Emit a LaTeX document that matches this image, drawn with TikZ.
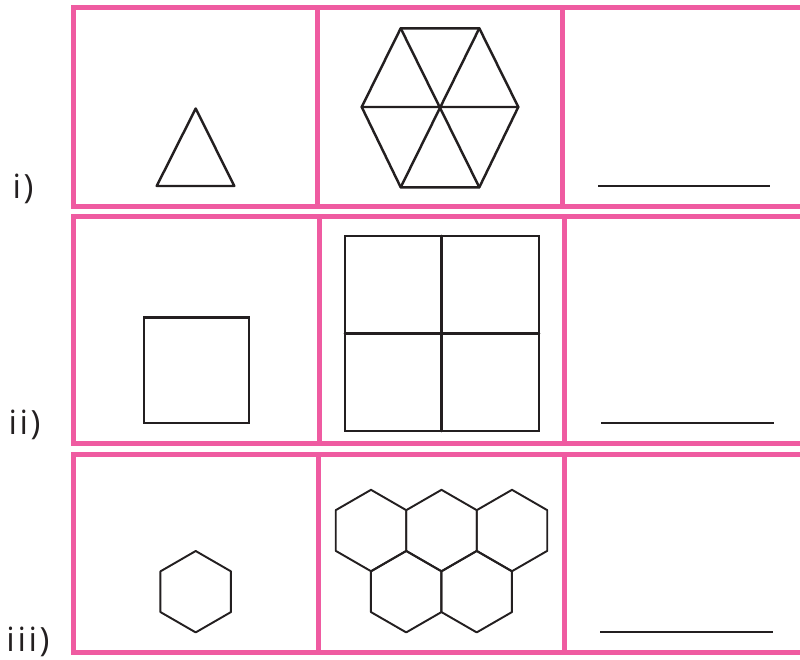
\documentclass[tikz,border=0pt]{standalone}
\usepackage{fontspec}
\newfontfamily\labelfont[LetterSpace=8]{Open Sans}
\usepackage{xcolor}
\usepackage{tikz}
\usetikzlibrary{positioning}
\definecolor{framepink}{HTML}{EF5BA1}
\definecolor{ink}{HTML}{231F20}
\tikzset{
    every picture/.style={line cap=round,line join=round},
    cellframe/.style={draw=framepink,line width=2.85pt,line cap=rect,line join=miter},
    shapeline/.style={draw=ink,line width=1.4pt},
    hexline/.style={draw=ink,line width=1.1pt},
    answerline/.style={draw=ink,line width=1.3pt,line cap=butt},
    rowlabel/.style={inner sep=0pt,text=ink,font=\labelfont\fontsize{19}{22}\selectfont}
}

\begin{document}
\begin{tikzpicture}[x=0.02cm,y=-0.02cm]
  \useasboundingbox (0,0) rectangle (800,659);
  % frames of the three rows
  \foreach \ya/\yb/\xa/\xb in {7.5/206/317.5/562,216.5/443.5/319.5/564.5,454/652/318.5/564}{
    \draw[cellframe] (73.5,\ya) rectangle (815,\yb);
    \draw[cellframe] (\xa,\ya)--(\xa,\yb) (\xb,\ya)--(\xb,\yb);}
  \node[rowlabel,anchor=base east] (lab1) at (34,198){i)};
  \node[rowlabel,anchor=base east] (lab2) at (41,434){ii)};
  \node[rowlabel,anchor=base east] (lab3) at (50,651){iii)};
  % row i
  \draw[shapeline] (195.7,108.5)--(156.7,186)--(234.3,186)--cycle;
  \coordinate (hl) at (361.7,107);   \coordinate (hr) at (518.3,107);
  \coordinate (htl) at (400.7,28.3); \coordinate (htr) at (479.3,28.3);
  \coordinate (hbl) at (400.7,187.3);\coordinate (hbr) at (479.3,187.3);
  \draw[shapeline] (hl)--(htl)--(htr)--(hr)--(hbr)--(hbl)--cycle;
  \draw[shapeline] (hl)--(hr) (htl)--(hbr) (htr)--(hbl);
  \draw[answerline] (598,186)--(770,186);
  % row ii
  \draw[shapeline,line width=1.6pt,line join=miter] (144,317.5) rectangle (249,423);
  \draw[shapeline,line width=1.5pt,line join=miter] (345,236) rectangle (539,431);
  \draw[shapeline,line width=1.5pt] (441.7,236)--(441.7,431) (345,333.5)--(539,333.5);
  \draw[answerline] (601,423.3)--(773.5,423.3);
  % row iii
  \foreach \cx/\cy in {195.7/591.7,371/530.5,441.5/530.5,512/530.5,406.2/591.7,476.7/591.7}{
    \draw[hexline] (\cx,\cy) +(30:40.7)--+(90:40.7)--+(150:40.7)--+(210:40.7)
      --+(270:40.7)--+(330:40.7)--cycle;}
  \draw[answerline] (600,632.3)--(773,632.3);
\end{tikzpicture}
\end{document}
